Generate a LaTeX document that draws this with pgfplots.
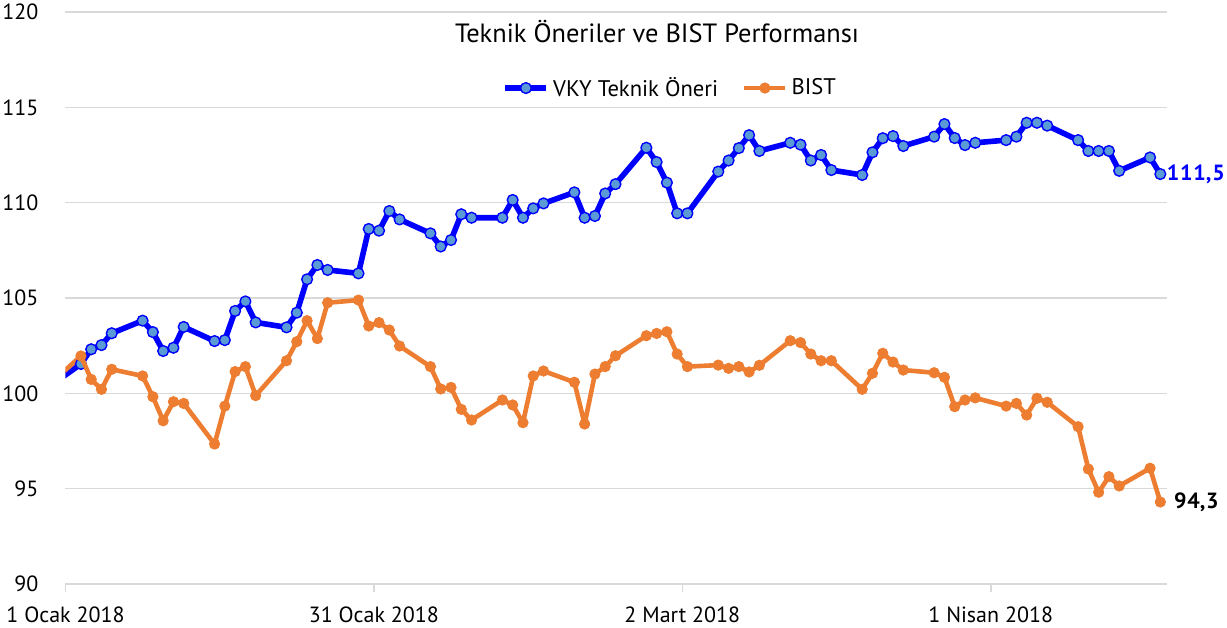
\documentclass[border=0pt]{standalone}
\usepackage{fontspec}
\setmainfont{PT Sans}
\usepackage{pgfplots}
\usepackage{pgfplotstable}
\pgfplotsset{compat=1.18}
\definecolor{vkyblue}{RGB}{0,0,255}
\definecolor{vkyfill}{RGB}{91,155,213}
\definecolor{bistorange}{RGB}{237,125,49}
\definecolor{gridgray}{RGB}{217,217,217}

\pgfplotstableread{
d v
1 101.54
2 102.31
3 102.53
4 103.15
7 103.81
8 103.21
9 102.22
10 102.39
11 103.48
14 102.74
15 102.79
16 104.32
17 104.82
18 103.72
21 103.46
22 104.23
23 105.98
24 106.73
25 106.47
28 106.29
29 108.62
30 108.53
31 109.56
32 109.12
35 108.39
36 107.70
37 108.04
38 109.39
39 109.21
42 109.21
43 110.14
44 109.21
45 109.70
46 109.96
49 110.54
50 109.21
51 109.30
52 110.48
53 110.97
56 112.88
57 112.13
58 111.05
59 109.44
60 109.44
63 111.63
64 112.21
65 112.86
66 113.54
67 112.71
70 113.14
71 113.04
72 112.21
73 112.50
74 111.71
77 111.45
78 112.64
79 113.38
80 113.49
81 112.97
84 113.46
85 114.12
86 113.39
87 113.02
88 113.14
91 113.28
92 113.46
93 114.19
94 114.19
95 114.04
98 113.28
99 112.71
100 112.71
101 112.71
102 111.67
105 112.37
106 111.50
}\vky

\pgfplotstableread{
d v
1 101.96
2 100.73
3 100.21
4 101.26
7 100.91
8 99.82
9 98.56
10 99.56
11 99.47
14 97.34
15 99.33
16 101.14
17 101.40
18 99.88
21 101.71
22 102.71
23 103.81
24 102.87
25 104.75
28 104.89
29 103.53
30 103.71
31 103.32
32 102.48
35 101.40
36 100.23
37 100.31
38 99.16
39 98.60
42 99.65
43 99.39
44 98.46
45 100.91
46 101.17
49 100.58
50 98.39
51 101.01
52 101.40
53 101.97
56 103.02
57 103.14
58 103.23
59 102.06
60 101.40
63 101.48
64 101.31
65 101.40
66 101.12
67 101.47
70 102.76
71 102.66
72 102.06
73 101.71
74 101.71
77 100.21
78 101.05
79 102.10
80 101.64
81 101.22
84 101.08
85 100.84
86 99.30
87 99.65
88 99.76
91 99.33
92 99.47
93 98.86
94 99.74
95 99.53
98 98.25
99 96.03
100 94.81
101 95.63
102 95.14
105 96.07
106 94.30
}\bist

\begin{document}
\begin{tikzpicture}
\begin{axis}[
  name=ax,
  scale only axis,
  width=550.75pt, height=286pt,
  xmin=-0.5, xmax=106.65,
  ymin=90, ymax=120,
  clip mode=individual,
  ytick={90,95,100,105,110,115,120},
  yticklabels={90,95,100,105,110,115,120},
  xtick={-0.5,29.5,59.5,89.5},
  xticklabels={1 Ocak 2018,31 Ocak 2018,2 Mart 2018,1 Nisan 2018},
  ymajorgrids,
  grid style={gridgray, line width=0.8pt},
  axis x line*=bottom,
  axis y line*=left,
  y axis line style={draw=none},
  x axis line style={draw=gridgray, line width=0.8pt},
  xtick style={draw=gridgray, line width=0.8pt},
  ytick style={draw=none},
  tick align=outside,
  major tick length=4pt,
  ticklabel style={font=\fontsize{11}{13}\selectfont, text=black},
  yticklabel style={xshift=-6pt},
  xticklabel style={yshift=-4pt},
  /pgf/number format/assume math mode=true,
  legend style={at={(rel axis cs:0.55,0.867)}, anchor=center, draw=none, fill=none,
    legend columns=2, font=\fontsize{11.3}{13}\selectfont,
    /tikz/every even column/.append style={column sep=10pt}},
  legend cell align=left,
  legend image code/.code={\draw[mark repeat=2, mark phase=2] plot coordinates {(0cm,0cm) (0.36cm,0cm) (0.72cm,0cm)};},
  every axis legend/.append style={/tikz/inner sep=0pt},
]
% segments from the starting value (29 Dec 2017), clipped at the axis edge
\addplot[vkyblue, line width=2.8pt, forget plot] coordinates {(-3,100) (1,101.54)};
\addplot[bistorange, line width=2.3pt, forget plot] coordinates {(-3,100) (1,101.96)};

\addplot[vkyblue, line width=2.8pt, line join=round,
  mark=*, mark size=2.7pt, mark options={fill=vkyfill, draw=vkyblue, line width=0.7pt}]
  table[x=d, y=v] {\vky};
\addlegendentry{VKY Teknik Öneri}
\addplot[bistorange, line width=2.3pt, line join=round,
  mark=*, mark size=2.6pt, mark options={fill=bistorange, draw=bistorange, line width=0.4pt}]
  table[x=d, y=v] {\bist};
\addlegendentry{BIST}

\node[font=\fontsize{13.2}{16}\selectfont] at (rel axis cs:0.537,0.965) {Teknik Öneriler ve BIST Performansı};
\node[anchor=west, font=\bfseries\fontsize{11}{13}\selectfont, text=vkyblue, inner sep=0pt] at (axis cs:106.6,111.5) {1\kern0.4pt1\kern0.4pt1,\kern0.4pt5};
\node[anchor=west, font=\bfseries\fontsize{11}{13}\selectfont, text=black, inner sep=0pt] at (axis cs:107.3,94.3) {9\kern0.4pt4,\kern0.4pt3};
\end{axis}
\pgfresetboundingbox
\path ([xshift=-32.75pt, yshift=-22pt]ax.south west) rectangle ([xshift=30pt, yshift=6pt]ax.north east);
\end{tikzpicture}
\end{document}
